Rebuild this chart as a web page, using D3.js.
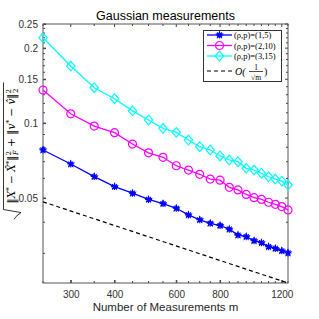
<!DOCTYPE html>
<html>
<head>
<meta charset="utf-8">
<script src="https://cdn.jsdelivr.net/npm/d3@7"></script>
<style>
  body { margin: 0; background: #fff; }
  svg { display: block; font-family: "Liberation Sans", Arial, sans-serif; }
</style>
</head>
<body>
<div id="chart"></div>
<script>
// measurement counts m
var mValues = [250, 300, 350, 400, 450, 500, 550, 600, 650, 700, 750,
               800, 850, 900, 950, 1000, 1050, 1100, 1150, 1200, 1250];

// (rho,p)=(1,5)
var err_1_5 = [0.078, 0.0685, 0.061, 0.0556, 0.0523, 0.0494, 0.0475, 0.0455, 0.0428, 0.0409, 0.0396,
               0.0388, 0.0375, 0.0355, 0.035, 0.0337, 0.0331, 0.0319, 0.0314, 0.0307, 0.0301];
// (rho,p)=(2,10)
var err_2_10 = [0.1358, 0.109, 0.0973, 0.0915, 0.0824, 0.076, 0.0729, 0.0674, 0.0648, 0.0623, 0.0596,
                0.059, 0.0552, 0.0539, 0.0517, 0.0502, 0.0494, 0.0481, 0.0472, 0.0462, 0.0448];
// (rho,p)=(3,15)
var err_3_15 = [0.220, 0.1695, 0.1387, 0.1253, 0.112, 0.1029, 0.0953, 0.0918, 0.0855, 0.0804, 0.078,
                0.0738, 0.0711, 0.070, 0.0658, 0.0648, 0.0629, 0.0609, 0.0596, 0.0585, 0.0564];

// reference rate O(1/sqrt(m)), read at both ends
var refM = [250, 1250];
var refValues = [0.0483, 0.0228];

var xTickValues = [300, 400, 600, 800, 1200];
var yTickValues = [0.05, 0.1, 0.15, 0.2, 0.25];

var seriesNames = ["(\u03c1,p)=(1,5)", "(\u03c1,p)=(2,10)", "(\u03c1,p)=(3,15)"];

var width = 319, height = 319,
    margin = {left: 43, right: 31, top: 24, bottom: 36},
    plotW = width - margin.left - margin.right,
    plotH = height - margin.top - margin.bottom;

var serif = "'Liberation Serif', 'DejaVu Serif', serif";

var svg = d3.select("#chart").append("svg")
    .attr("width", width)
    .attr("height", height);

var x = d3.scaleLog().domain([250, 1250]).range([0, plotW]);
var y = d3.scaleLog().domain([0.0228, 0.25]).range([plotH, 0]);

var scene = svg.append("g")
    .attr("transform", "translate(" + margin.left + "," + margin.top + ")");

// minor ticks
var xMinor = d3.range(250, 1251, 50).filter(function (d) { return xTickValues.indexOf(d) < 0; });
var yMinor = d3.range(3, 25).map(function (d) { return d / 100; })
    .filter(function (d) { return yTickValues.indexOf(d) < 0 && d >= 0.0228; });

var axisColor = "#404040", tickLen = 3;

// X Axis Group
var gx = scene.append("g")
    .attr("class", "axis axis--x")
    .attr("transform", "translate(0," + plotH + ")")
    .call(d3.axisBottom(x).tickValues(xTickValues).tickFormat(d3.format("d"))
        .tickSizeInner(-tickLen).tickSizeOuter(0).tickPadding(8));

// Y Axis Group
var gy = scene.append("g")
    .attr("class", "axis axis--y")
    .call(d3.axisLeft(y).tickValues(yTickValues).tickFormat(function (d) { return d3.format("")(+d.toFixed(2)); })
        .tickSizeInner(-tickLen).tickSizeOuter(0).tickPadding(5));

[gx, gy].forEach(function (g) {
    g.select(".domain").remove();
    g.selectAll("line").attr("stroke", axisColor);
    g.selectAll("text").attr("fill", "#333").style("font-size", "10px")
        .style("font-family", "'Liberation Sans', Arial, sans-serif");
});

// mirrored ticks top / right plus minor ticks
var tickG = scene.append("g").attr("stroke", axisColor).attr("stroke-width", 1);
xTickValues.concat(xMinor).forEach(function (d) {
    var len = xTickValues.indexOf(d) >= 0 ? tickLen : 2;
    tickG.append("line").attr("x1", x(d)).attr("x2", x(d)).attr("y1", 0).attr("y2", len);
    tickG.append("line").attr("x1", x(d)).attr("x2", x(d)).attr("y1", plotH).attr("y2", plotH - len);
});
yTickValues.concat(yMinor).forEach(function (d) {
    var len = yTickValues.indexOf(d) >= 0 ? tickLen : 2;
    tickG.append("line").attr("y1", y(d)).attr("y2", y(d)).attr("x1", plotW).attr("x2", plotW - len);
    tickG.append("line").attr("y1", y(d)).attr("y2", y(d)).attr("x1", 0).attr("x2", len);
});

// box
scene.append("rect")
    .attr("x", 0).attr("y", 0).attr("width", plotW).attr("height", plotH)
    .attr("fill", "none").attr("stroke", "#555").attr("stroke-width", 1);

var line = d3.line()
    .x(function (d) { return x(d.m); })
    .y(function (d) { return y(d.v); });

function zip(vals) {
    return mValues.map(function (m, i) { return {m: m, v: vals[i]}; });
}

var data = [
    {id: "1-5", color: "#0000ff", marker: "star", values: zip(err_1_5)},
    {id: "2-10", color: "#ff00ff", marker: "circle", values: zip(err_2_10)},
    {id: "3-15", color: "#00ffff", marker: "diamond", values: zip(err_3_15)}
];

function drawMarker(g, type, color) {
    if (type === "circle") {
        g.append("circle").attr("r", 4).attr("fill", "none")
            .attr("stroke", color).attr("stroke-width", 1.2);
    } else if (type === "diamond") {
        g.append("path").attr("d", "M0,-4.8L4.2,0L0,4.8L-4.2,0Z").attr("fill", "none")
            .attr("stroke", color).attr("stroke-width", 1.2);
    } else {
        g.append("path").attr("d", d3.symbol().type(d3.symbolStar).size(24)())
            .attr("fill", color);
        g.append("path").attr("d", "M-3.5,0L3.5,0M0,-3.5L0,3.5M-2.5,-2.5L2.5,2.5M-2.5,2.5L2.5,-2.5")
            .attr("stroke", color).attr("stroke-width", 1.1);
    }
}

// reference dashed line
scene.append("path")
    .datum(refM.map(function (m, i) { return {m: m, v: refValues[i]}; }))
    .attr("d", line)
    .attr("fill", "none").attr("stroke", "#000")
    .attr("stroke-width", 1.2).attr("stroke-dasharray", "4,3");

data.forEach(function (s) {
    var g = scene.append("g").attr("class", "series").attr("id", "serie-" + s.id);
    g.append("path").datum(s.values).attr("d", line)
        .attr("fill", "none").attr("stroke", s.color).attr("stroke-width", 1.3);
    s.values.forEach(function (d) {
        var mg = g.append("g").attr("transform", "translate(" + x(d.m) + "," + y(d.v) + ")");
        drawMarker(mg, s.marker, s.color);
    });
});

// title
svg.append("text")
    .attr("x", margin.left + plotW / 2).attr("y", 19.5)
    .attr("text-anchor", "middle")
    .style("font-size", "12.5px").attr("fill", "#000")
    .text("Gaussian measurements");

// x label
svg.append("text")
    .attr("x", margin.left + plotW / 2).attr("y", 311)
    .attr("text-anchor", "middle")
    .style("font-size", "11.5px").attr("fill", "#262626")
    .text("Number of Measurements m");

// y label (sqrt of error sum)
var yl = svg.append("g").attr("transform", "translate(15,146) rotate(-90)");
var ylText = yl.append("text")
    .attr("x", 0).attr("y", 0)
    .attr("text-anchor", "middle")
    .style("font-family", "'DejaVu Serif', 'Liberation Serif', serif")
    .style("font-size", "10.5px").attr("fill", "#000");
function part(txt, opts) {
    var t = ylText.append("tspan").text(txt);
    opts = opts || {};
    if (opts.italic) t.style("font-style", "italic");
    if (opts.dy) t.attr("dy", opts.dy);
    if (opts.dx) t.attr("dx", opts.dx);
    if (opts.small) t.style("font-size", "7px");
    return t;
}
part("\u2016");
part("X", {italic: true});
part("*", {small: true, dy: -4});
part(" \u2212 ", {dy: 4});
part("X\u0302", {italic: true});
part("*", {small: true, dy: -4});
part("\u2016", {dy: 4});
part("2", {small: true, dy: -4});
part("F", {small: true, dy: 7, dx: -4, italic: true});
part(" + \u2016", {dy: -3});
part("v", {italic: true});
part("*", {small: true, dy: -4});
part(" \u2212 ", {dy: 4});
part("v\u0302", {italic: true});
part("\u2016", {});
part("2", {small: true, dy: -4});
part("2", {small: true, dy: 7, dx: -4});
var tl = ylText.node().getComputedTextLength();
yl.append("path")
    .attr("d", "M" + (-tl / 2 - 12) + ",-1L" + (-tl / 2 - 9) + ",1L" + (-tl / 2 - 5) + ",6L" +
        (-tl / 2 - 2) + ",-11.5L" + (tl / 2 + 2) + ",-11.5")
    .attr("fill", "none").attr("stroke", "#000").attr("stroke-width", 0.8);

// legend
var legendRows = [
    {label: seriesNames[0], color: "#0000ff", marker: "star", y: 35},
    {label: seriesNames[1], color: "#ff00ff", marker: "circle", y: 45.5},
    {label: seriesNames[2], color: "#00ffff", marker: "diamond", y: 56}
];
var lg = svg.append("g").attr("class", "legend");
lg.append("rect")
    .attr("x", 203.5).attr("y", 30.5).attr("width", 78).attr("height", 51)
    .attr("fill", "#fff").attr("stroke", "#333").attr("stroke-width", 1);
legendRows.forEach(function (r) {
    lg.append("line").attr("x1", 207).attr("x2", 232).attr("y1", r.y).attr("y2", r.y)
        .attr("stroke", r.color).attr("stroke-width", 1.3);
    var mg = lg.append("g").attr("transform", "translate(219.5," + r.y + ")");
    drawMarker(mg, r.marker, r.color);
    lg.append("text").attr("x", 234).attr("y", r.y + 3)
        .style("font-family", serif)
        .style("font-size", "8.5px").attr("fill", "#000")
        .text(r.label);
});
// O(1/sqrt(m)) row
lg.append("line").attr("x1", 207).attr("x2", 232).attr("y1", 71).attr("y2", 71)
    .attr("stroke", "#000").attr("stroke-width", 1.2).attr("stroke-dasharray", "4,3");
lg.append("text").attr("x", 235).attr("y", 74.5)
    .style("font-family", serif).style("font-style", "italic")
    .style("font-size", "10px").attr("fill", "#000")
    .text("O(");
lg.append("text").attr("x", 256).attr("y", 69.5).attr("text-anchor", "middle")
    .style("font-family", serif)
    .style("font-size", "7.5px").text("1");
lg.append("line").attr("x1", 249).attr("x2", 263).attr("y1", 71.5).attr("y2", 71.5)
    .attr("stroke", "#000").attr("stroke-width", 0.7);
lg.append("text").attr("x", 256).attr("y", 79.5).attr("text-anchor", "middle")
    .style("font-family", serif)
    .style("font-size", "7.5px").text("\u221am");
lg.append("text").attr("x", 264).attr("y", 74.5)
    .style("font-family", serif)
    .style("font-size", "10px").text(")");
</script>
</body>
</html>
